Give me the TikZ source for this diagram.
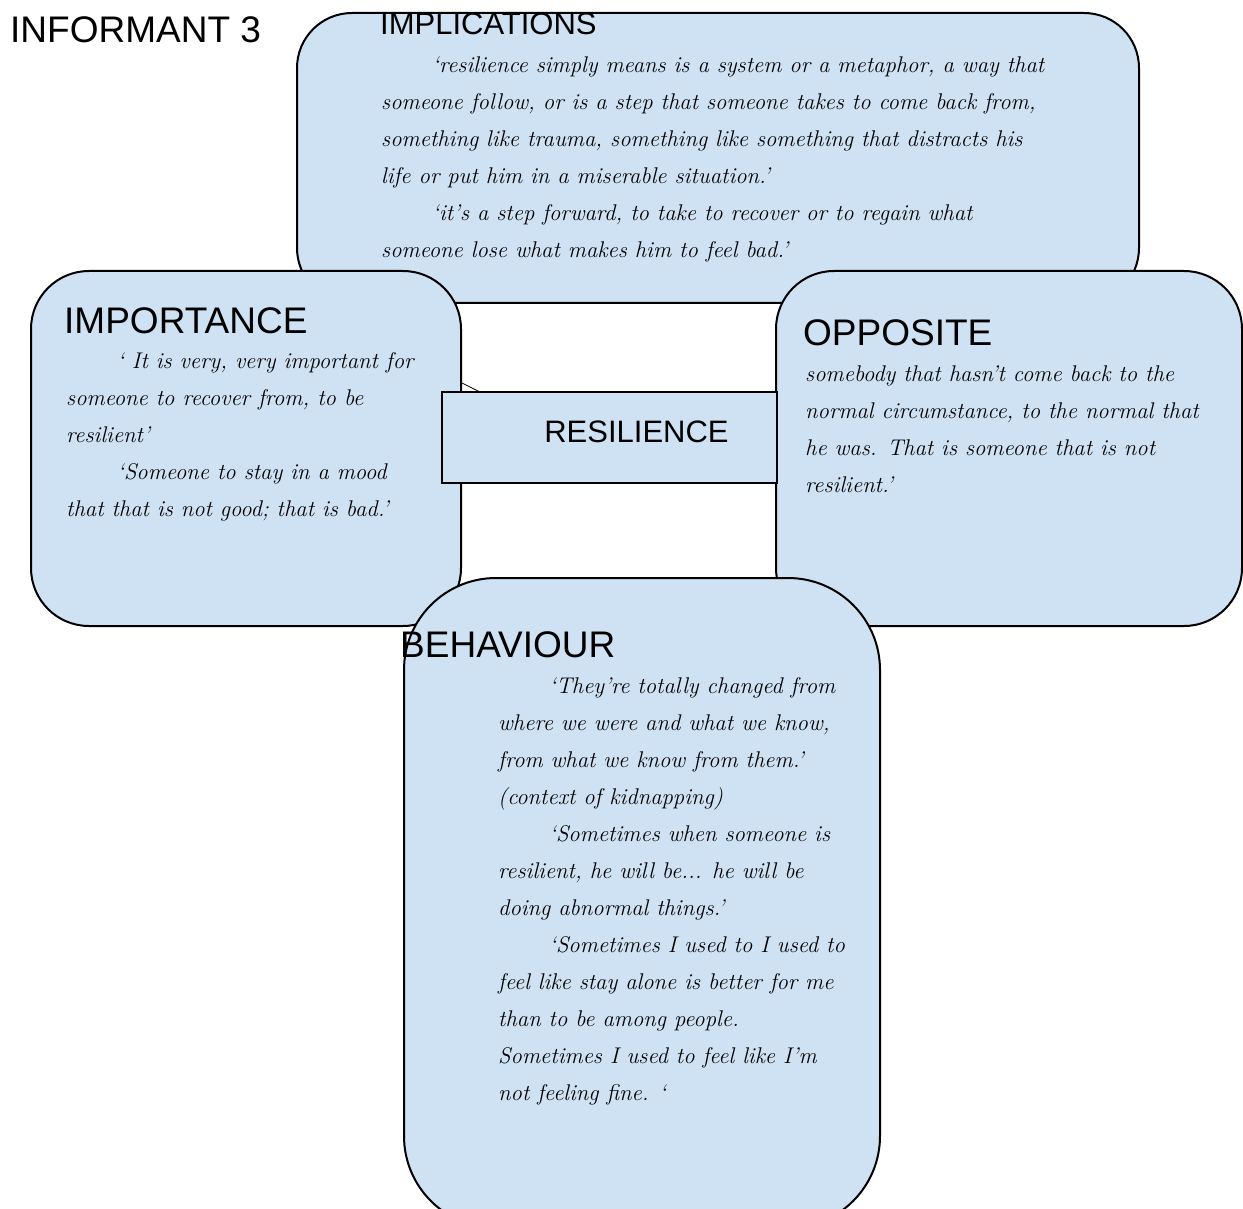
\documentclass[tikz,border=0pt]{standalone}
\usepackage{fontspec}
\newfontfamily\headfont{Liberation Sans}
\usetikzlibrary{positioning}
\definecolor{paneblue}{HTML}{CFE2F3}
\newcommand{\QIndent}{\hspace*{51pt}}

\begin{document}
\begin{tikzpicture}
    [
        x=1pt, y=-1pt,
        Panel/.style={rectangle, draw, line width=2pt, fill=paneblue, anchor=north west, inner sep=0pt},
        Heading/.style={font=\headfont\fontsize{37}{44}\selectfont, anchor=base west, inner sep=0pt},
        SmallHeading/.style={font=\headfont\fontsize{31}{37}\selectfont, anchor=base west, inner sep=0pt},
        Quote/.style={font=\itshape\fontsize{22.7}{37}\selectfont, align=left, anchor=north west, inner sep=0pt}
    ]
    \clip (0,0) rectangle (1243,1209);
    \node[Heading] (Informant) at (10,43) {INFORMANT 3};

    % top panel
    \node[Panel, rounded corners=55pt, minimum width=842pt, minimum height=290pt] (Implications) at (296,12) {};
    \node[SmallHeading] (ImplHead) at (380,35) {IMPLICATIONS};
    \node[Quote] (ImplText) at (381,57) {\QIndent‘resilience simply means is a system or a metaphor, a way that\\
        someone follow, or is a step that someone takes to come back from,\\
        something like trauma, something like something that distracts his\\
        life or put him in a miserable situation.’\\
        \QIndent‘it’s a step forward, to take to recover or to regain what\\
        someone lose what makes him to feel bad.’};

    % side panels
    \node[Panel, rounded corners=58pt, minimum width=430pt, minimum height=355pt] (Importance) at (30,270) {};
    \node[Heading] (ImpHead) at (64,333) {IMPORTANCE};
    \node[Quote] (ImpText) at (66,352) {\QIndent‘ It is very, very important for\\
        someone to recover from, to be\\
        resilient’\\
        \QIndent‘Someone to stay in a mood\\
        that that is not good; that is bad.’};

    \node[Panel, rounded corners=58pt, minimum width=466pt, minimum height=355pt] (Opposite) at (775,270) {};
    \node[Heading] (OppHead) at (803,345) {OPPOSITE};
    \node[Quote] (OppText) at (805,366) {somebody that hasn’t come back to the\\
        normal circumstance, to the normal that\\
        he was. That is someone that is not\\
        resilient.’};

    % centre
    \coordinate (StubA) at (460,382);
    \coordinate (StubB) at (480,392);
    \draw[line width=0.8pt] (StubA) -- (StubB);
    \node[Panel, minimum width=335pt, minimum height=91pt, font=\headfont\fontsize{31}{37}\selectfont] (Resilience) at (441,391) {\hspace*{54pt}\raisebox{12pt}{RESILIENCE}};

    % bottom panel
    \node[Panel, rounded corners=92pt, minimum width=476pt, minimum height=650pt] (Behaviour) at (403,577) {};
    \node[Heading] (BehHead) at (400,657) {BEHAVIOUR};
    \node[Quote] (BehText) at (498,677) {\QIndent‘They’re totally changed from\\
        where we were and what we know,\\
        from what we know from them.’\\
        (context of kidnapping)\\
        \QIndent‘Sometimes when someone is\\
        resilient, he will be... he will be\\
        doing abnormal things.’\\
        \QIndent‘Sometimes I used to I used to\\
        feel like stay alone is better for me\\
        than to be among people.\\
        Sometimes I used to feel like I’m\\
        not feeling fine. ‘};
\end{tikzpicture}
\end{document}
